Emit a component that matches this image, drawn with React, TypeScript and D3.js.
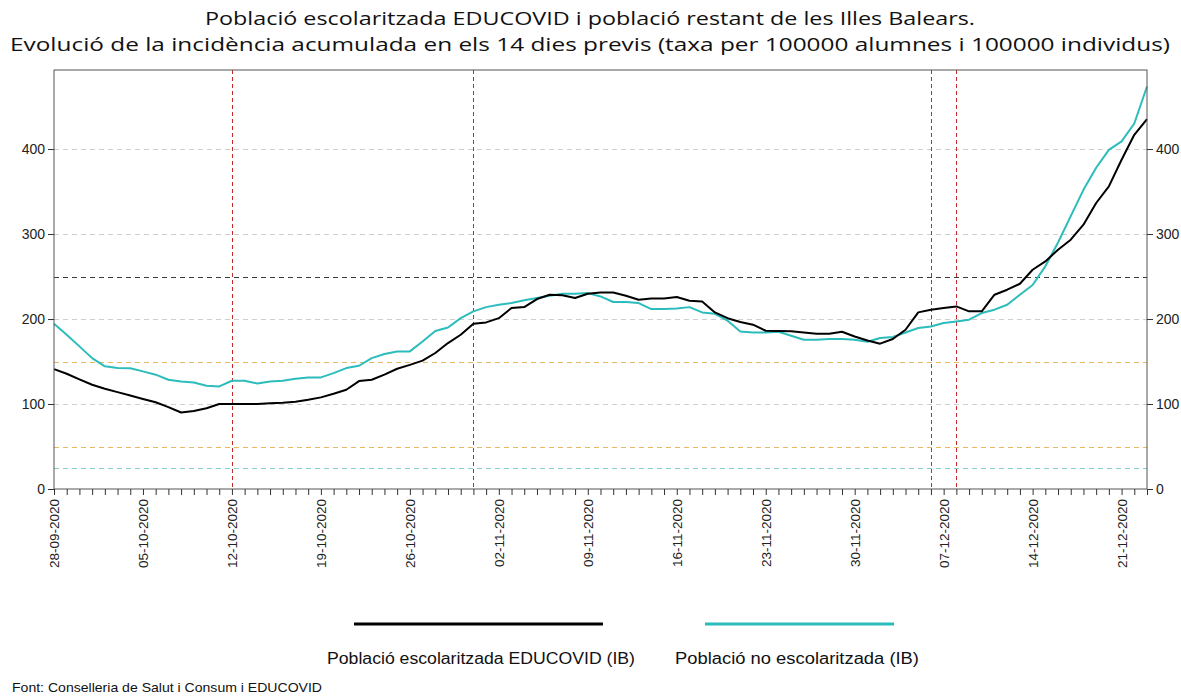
import React, { useEffect, useRef } from 'react'
import * as d3 from 'd3'

// taxa per 100000, un valor per dia des del 28-09-2020 fins al 23-12-2020
const educovid = [
  141, 135.6, 129, 122.7, 118, 114, 110, 106, 102, 96.4,
  90, 91.7, 95, 100, 100, 100, 100, 101, 101.5, 102.7,
  105, 107.8, 112, 116.8, 127, 128.5, 134.5, 141.5, 146, 151,
  160, 171.7, 181.5, 194.5, 196, 201, 213, 214, 223.5, 228.6,
  228, 224.7, 229.8, 231.3, 231.3, 227.4, 222.7, 224.2, 224.2, 225.9,
  221.5, 220.7, 207.8, 201, 196.5, 193.3, 186.2, 186, 185.5, 184.2,
  182.7, 182.7, 185, 179.5, 174.8, 171, 176.5, 187.4, 207.8, 211,
  213, 214.8, 209, 209, 228.6, 234.5, 241.5, 258, 267.8, 281.5,
  293.3, 311, 336.5, 356, 387.4, 416.8, 435.3,
]

const noEscolaritzada = [
  194.5, 181.5, 167.8, 154, 144.3, 142.3, 142, 138.4, 134.5, 128.6,
  126.6, 125.4, 121.5, 120.7, 127.4, 127.4, 124.2, 126.6, 127.4, 129.8,
  131.3, 131.3, 136.4, 142.3, 145, 154, 158.8, 161.9, 161.9, 173.6,
  186, 190, 201, 209, 214, 216.8, 218.8, 222, 224.7, 227.4,
  229.8, 229.8, 230.5, 226.6, 220, 220, 218.8, 211.7, 211.7, 212.5,
  214, 207.8, 206.2, 198, 185.4, 184.2, 184.2, 185, 180.4, 175.7,
  175.7, 176.5, 176.5, 175.7, 173.3, 177.6, 178.8, 184.2, 189.4, 191.3,
  195.3, 197.2, 199.2, 207, 211, 216.8, 228.6, 240, 262, 290,
  321, 352, 378, 399, 409, 430, 473.6,
]

const weekLabels = [
  '28-09-2020', '05-10-2020', '12-10-2020', '19-10-2020', '26-10-2020',
  '02-11-2020', '09-11-2020', '16-11-2020', '23-11-2020', '30-11-2020',
  '07-12-2020', '14-12-2020', '21-12-2020',
]

const markerDates = ['12-10-2020', '31-10-2020', '06-12-2020', '08-12-2020']

const yTicks = [0, 100, 200, 300, 400]

const refLines = [
  { value: 250, color: '#3a3a3a' },
  { value: 150, color: '#e8b964' },
  { value: 50, color: '#e8b964' },
  { value: 25, color: '#86cfcf' },
]

const seriesNames = ['Població escolaritzada EDUCOVID (IB)', 'Població no escolaritzada (IB)']
const seriesColors = ['#000000', '#2cbcbc']

const parseDate = d3.timeParse('%d-%m-%Y')
const firstDay = parseDate('28-09-2020')
const lastDay = parseDate('23-12-2020')
const days = d3.timeDay.range(firstDay, d3.timeDay.offset(lastDay, 1))

const App = () => {
  const svgRef = useRef(null)

  useEffect(() => {
    document.body.style.margin = '0'
    const width = 1181
    const height = 698
    const margin = { top: 70, right: 34, bottom: 209, left: 54 }
    const innerWidth = width - margin.left - margin.right
    const innerHeight = height - margin.top - margin.bottom

    const svg = d3.select(svgRef.current)
    svg.selectAll('*').remove()
    svg.attr('width', width).attr('height', height)

    const axisFont = 'Arial, "Liberation Sans", sans-serif'

    // titol
    const title = svg.append('g')
      .attr('font-family', '"Open Sans", "Noto Sans", sans-serif')
      .attr('fill', '#111')
      .attr('text-anchor', 'middle')
    title.append('text').attr('x', 590).attr('y', 25).attr('font-size', 19)
      .attr('textLength', 770).attr('lengthAdjust', 'spacingAndGlyphs')
      .text('Població escolaritzada EDUCOVID i població restant de les Illes Balears.')
    title.append('text').attr('x', 590).attr('y', 51).attr('font-size', 19)
      .attr('textLength', 1160).attr('lengthAdjust', 'spacingAndGlyphs')
      .text('Evolució de la incidència acumulada en els 14 dies previs (taxa per 100000 alumnes i 100000 individus)')

    const g = svg.append('g').attr('transform', `translate(${margin.left},${margin.top})`)

    const xScale = d3.scaleTime().domain([firstDay, lastDay]).range([0, innerWidth])
    const yScale = d3.scaleLinear().domain([0, 493]).range([innerHeight, 0])

    // graella
    g.selectAll('.grid')
      .data(yTicks.filter(d => d > 0))
      .enter()
      .append('line')
      .attr('class', 'grid')
      .attr('x1', 0).attr('x2', innerWidth)
      .attr('y1', d => Math.round(yScale(d)) + 0.5).attr('y2', d => Math.round(yScale(d)) + 0.5)
      .style('stroke', '#cfcfcf')
      .style('stroke-dasharray', '5,4')

    g.selectAll('.ref')
      .data(refLines)
      .enter()
      .append('line')
      .attr('class', 'ref')
      .attr('x1', 0).attr('x2', innerWidth)
      .attr('y1', d => Math.round(yScale(d.value)) + 0.5).attr('y2', d => Math.round(yScale(d.value)) + 0.5)
      .style('stroke', d => d.color)
      .style('stroke-dasharray', '5,4')

    g.selectAll('.marker')
      .data(markerDates)
      .enter()
      .append('line')
      .attr('class', 'marker')
      .attr('x1', d => Math.round(xScale(parseDate(d))) + 0.5)
      .attr('x2', d => Math.round(xScale(parseDate(d))) + 0.5)
      .attr('y1', 0).attr('y2', innerHeight)
      .style('stroke', '#c42a2a')
      .style('stroke-dasharray', '4,3')

    // series
    const line = d3.line()
      .x((d, i) => xScale(days[i]))
      .y(d => yScale(d))

    g.append('path')
      .datum(noEscolaritzada)
      .attr('d', line)
      .style('fill', 'none')
      .style('stroke', seriesColors[1])
      .style('stroke-width', 2)
      .style('stroke-linejoin', 'round')

    g.append('path')
      .datum(educovid)
      .attr('d', line)
      .style('fill', 'none')
      .style('stroke', seriesColors[0])
      .style('stroke-width', 2)
      .style('stroke-linejoin', 'round')

    // marc
    g.append('rect')
      .attr('width', innerWidth).attr('height', innerHeight)
      .style('fill', 'none').style('stroke', '#555')

    // eixos
    const xAxis = d3.axisBottom(xScale)
      .tickValues(days)
      .tickSize(6)
      .tickFormat(d => {
        const s = d3.timeFormat('%d-%m-%Y')(d)
        return weekLabels.includes(s) ? s : ''
      })
    const xg = g.append('g').attr('transform', `translate(0,${innerHeight})`).call(xAxis)
    xg.select('.domain').remove()
    xg.selectAll('line').style('stroke', '#333')
    xg.selectAll('text')
      .attr('transform', 'rotate(-90)')
      .attr('text-anchor', 'end')
      .attr('x', -10)
      .attr('y', 0)
      .attr('dy', '0.35em')
      .style('font-family', axisFont)
      .style('font-size', '13.5px')
      .style('fill', '#222')

    const leftAxis = d3.axisLeft(yScale).tickValues(yTicks).tickSize(6).tickPadding(3)
    const lg = g.append('g').call(leftAxis)
    lg.select('.domain').remove()
    lg.selectAll('line').style('stroke', '#333')
    lg.selectAll('text').style('font-family', axisFont).style('font-size', '14px').style('fill', '#222')

    const rightAxis = d3.axisRight(yScale).tickValues(yTicks).tickSize(6).tickPadding(3)
    const rg = g.append('g').attr('transform', `translate(${innerWidth},0)`).call(rightAxis)
    rg.select('.domain').remove()
    rg.selectAll('line').style('stroke', '#333')
    rg.selectAll('text').style('font-family', axisFont).style('font-size', '14px').style('fill', '#222')

    // llegenda
    const legend = [
      { x1: 354, x2: 603, cx: 481, w: 308 },
      { x1: 705, x2: 894, cx: 797, w: 244 },
    ]
    legend.forEach((l, i) => {
      svg.append('line')
        .attr('x1', l.x1).attr('x2', l.x2)
        .attr('y1', 624).attr('y2', 624)
        .style('stroke', seriesColors[i])
        .style('stroke-width', 3)
      svg.append('text')
        .attr('x', l.cx).attr('y', 664)
        .attr('text-anchor', 'middle')
        .attr('textLength', l.w).attr('lengthAdjust', 'spacingAndGlyphs')
        .style('font-family', axisFont)
        .style('font-size', '16px')
        .style('fill', '#111')
        .text(seriesNames[i])
    })

    svg.append('text')
      .attr('x', 12).attr('y', 692)
      .attr('textLength', 310).attr('lengthAdjust', 'spacingAndGlyphs')
      .style('font-family', axisFont)
      .style('font-size', '13.5px')
      .style('fill', '#111')
      .text('Font: Conselleria de Salut i Consum i EDUCOVID')
  }, [])

  return (
    <div>
      <svg ref={svgRef} style={{ display: 'block' }}></svg>
    </div>
  )
}

export default App
